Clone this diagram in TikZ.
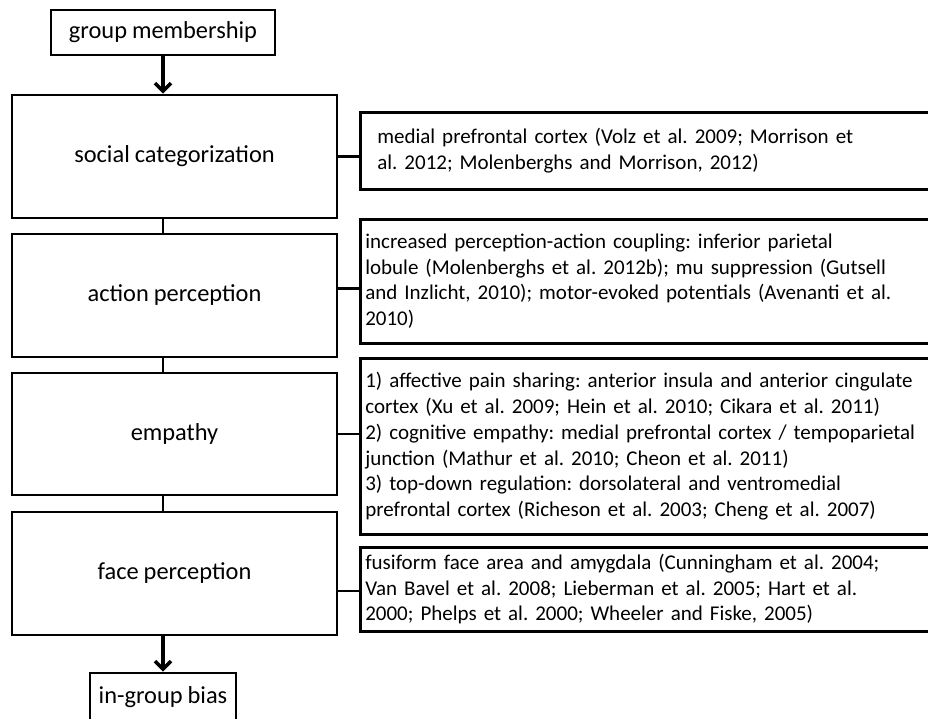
\documentclass[tikz,border=0pt]{standalone}
\usepackage{fontspec}
\setmainfont[WordSpace=0.9]{Carlito}
\usetikzlibrary{arrows.meta}
\frenchspacing
\begin{document}
\begin{tikzpicture}[x=1pt,y=-1pt,
  lbox/.style={draw,line width=2.6pt,rectangle,inner sep=0pt,font=\fontsize{24.4}{29}\selectfont},
  rbox/.style={draw,line width=2.6pt,rectangle,anchor=north west,align=left,inner ysep=0pt,
    font=\fontsize{21}{25.7}\selectfont},
  link/.style={line width=2.6pt},
  arr/.style={line width=4pt,-{Straight Barb[length=8pt,width=16pt,line width=3.6pt]}}
]
\useasboundingbox (0,0) rectangle (928,718);
\clip (0,0) rectangle (928,718);
\fill[white] (0,0) rectangle (928,718);

\node[lbox,minimum width=224,minimum height=45] (gm) at (163,32.5) {group membership};
\node[lbox,minimum width=325,minimum height=123] (sc) at (174.5,156.5) {social categorization};
\node[lbox,minimum width=325,minimum height=123] (ap) at (174.5,295.5) {action perception};
\node[lbox,minimum width=325,minimum height=122] (em) at (174.5,434) {empathy};
\node[lbox,minimum width=325,minimum height=123] (fp) at (174.5,573.5) {face perception};
\node[lbox,minimum width=146,minimum height=49] (ib) at (163,697.5) {in-group bias};

\node[rbox,inner xsep=17pt,text width=560pt,minimum height=77] (r1) at (359,111)
 {medial prefrontal cortex (Volz et al. 2009; Morrison et\\al. 2012; Molenberghs and Morrison, 2012)};
\node[rbox,inner xsep=5pt,text width=586pt,minimum height=124] (r2) at (359,218)
 {increased perception-action coupling: inferior parietal\\lobule (Molenberghs et al. 2012b); mu suppression (Gutsell\\and Inzlicht, 2010); motor-evoked potentials (Avenanti et al.\\2010)};
\node[rbox,inner xsep=5pt,text width=586pt,minimum height=176] (r3) at (359,357)
 {1) affective pain sharing: anterior insula and anterior cingulate\\cortex (Xu et al. 2009; Hein et al. 2010; Cikara et al. 2011)\\2) cognitive empathy: medial prefrontal cortex / tempoparietal\\junction (Mathur et al. 2010; Cheon et al. 2011)\\3) top-down regulation: dorsolateral and ventromedial\\prefrontal cortex (Richeson et al. 2003; Cheng et al. 2007)};
\node[rbox,inner xsep=5pt,text width=586pt,minimum height=84] (r4) at (359,546)
 {fusiform face area and amygdala (Cunningham et al. 2004;\\Van Bavel et al. 2008; Lieberman et al. 2005; Hart et al.\\2000; Phelps et al. 2000; Wheeler and Fiske, 2005)};

\draw[arr] (gm.south) -- (sc.north -| gm);
\draw[link] (sc.south -| gm) -- (ap.north -| gm);
\draw[link] (ap.south -| gm) -- (em.north -| gm);
\draw[link] (em.south -| gm) -- (fp.north -| gm);
\draw[arr] (fp.south -| gm) -- (ib.north);

\draw[link] (sc.east) -- (sc.east -| r1.west);
\draw[link] ([yshift=7pt]ap.east) -- ([yshift=7pt]ap.east -| r2.west);
\draw[link] (em.east) -- (em.east -| r3.west);
\draw[link] ([yshift=-17.5pt]fp.east) -- ([yshift=-17.5pt]fp.east -| r4.west);
\end{tikzpicture}
\end{document}
